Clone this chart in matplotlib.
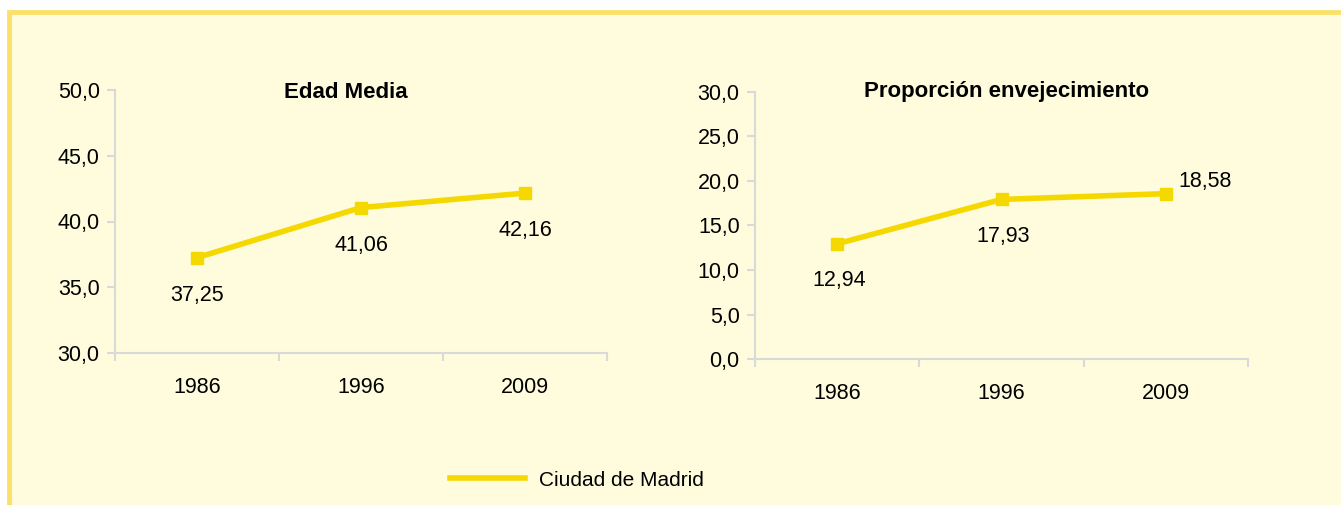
import matplotlib.pyplot as plt
from matplotlib.ticker import FuncFormatter, MultipleLocator, FixedLocator
from matplotlib.lines import Line2D
from matplotlib.patches import Rectangle

plt.rcParams['font.family'] = ['Liberation Sans', 'DejaVu Sans']

years = ['1986', '1996', '2009']
edad_media = [37.25, 41.06, 42.16]
envejecimiento = [12.94, 17.93, 18.58]
serie = 'Ciudad de Madrid'

line_color = '#F5D800'
bg_color = '#FEFCDD'
border_color = '#FBE06A'
grid_gray = '#D9D9D9'
fs = 15.5


def coma(v, pos=None):
    return f"{v:.1f}".replace('.', ',')


fig = plt.figure(figsize=(13.41, 5.05), dpi=100)
fig.patch.set_facecolor('white')

# panel background and border
fig.patches.append(Rectangle((9 / 1341, -0.05), 1.1, (505 - 12) / 505 + 0.05,
                             transform=fig.transFigure, facecolor=bg_color,
                             edgecolor=border_color, linewidth=3.5, zorder=-10))


def panel(rect, values, title, title_x, ylim, step, offsets):
    ax = fig.add_axes(rect)
    ax.set_facecolor('none')
    xs = [i + 0.5 for i in range(len(values))]
    ax.plot(xs, values, color=line_color, lw=4, marker='s', ms=9,
            solid_capstyle='butt', clip_on=False)
    ax.set_xlim(0, len(values))
    ax.set_ylim(*ylim)
    ax.yaxis.set_major_locator(MultipleLocator(step))
    ax.yaxis.set_major_formatter(FuncFormatter(coma))
    ax.xaxis.set_major_locator(FixedLocator(range(len(values) + 1)))
    ax.xaxis.set_major_formatter(FuncFormatter(lambda v, p: ''))
    ax.xaxis.set_minor_locator(FixedLocator(xs))
    ax.set_xticklabels(years, minor=True)
    ax.tick_params(axis='x', which='minor', length=0, pad=17, labelsize=fs)
    ax.tick_params(axis='x', which='major', length=6, width=1.5, color=grid_gray)
    ax.tick_params(axis='y', length=6, width=1.5, color=grid_gray, labelsize=fs, pad=5)
    for s in ['top', 'right']:
        ax.spines[s].set_visible(False)
    for s in ['left', 'bottom']:
        ax.spines[s].set_color(grid_gray)
        ax.spines[s].set_linewidth(1.5)
    for x, v, off in zip(xs, values, offsets):
        ax.annotate(f"{v:.2f}".replace('.', ','), (x, v), xytext=off,
                    textcoords='offset pixels', ha='center', va='center', fontsize=fs)
    fig.text(title_x / 1341, (505 - 92) / 505, title, ha='center', va='center',
             fontsize=16, fontweight='bold')
    return ax


panel([115 / 1341, (505 - 353) / 505, 492 / 1341, 263 / 505], edad_media,
      'Edad Media', 346, (30, 50), 5, [(0, -38), (0, -38), (0, -37)])
panel([755 / 1341, (505 - 359) / 505, 493 / 1341, 267 / 505], envejecimiento,
      'Proporción envejecimiento', 1007, (0, 30), 5, [(2, -37), (2, -37), (39, 12)])

handle = Line2D([], [], color=line_color, lw=4)
fig.legend([handle], [serie], loc='center', bbox_to_anchor=(577 / 1341, 25 / 505),
           frameon=False, fontsize=15, handlelength=3.6, handletextpad=0.7)

fig.savefig('out.png', dpi=100, facecolor=fig.get_facecolor())
